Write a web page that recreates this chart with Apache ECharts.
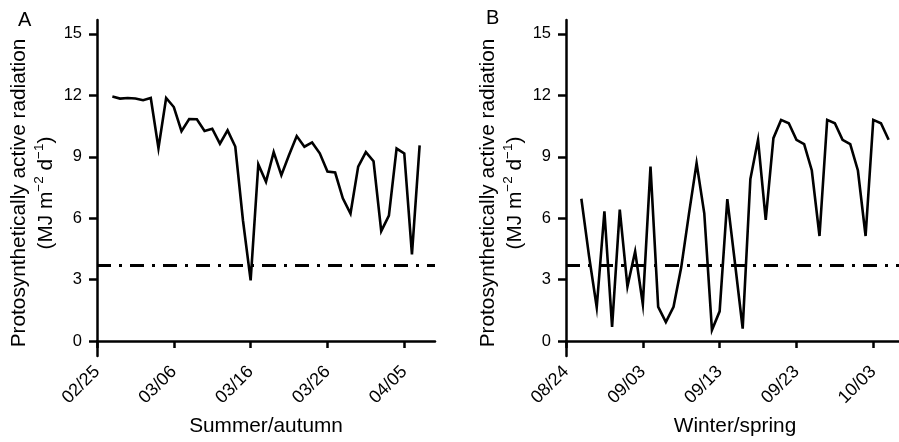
<!DOCTYPE html>
<html><head><meta charset="utf-8">
<script src="https://cdn.jsdelivr.net/npm/echarts@6/dist/echarts.min.js"></script>
<style>html,body{margin:0;padding:0;background:#fff}#c{width:899px;height:442px}</style>
</head><body><div id="c"></div>
<script>
// ---- data ----
const startA = [2020, 1, 25];   // 02/25
const startB = [2020, 7, 24];   // 08/24
const nDays = 45;               // days shown on each axis
const firstDay = 2;             // index of first measured day
const tickLabelsA = ['02/25', '03/06', '03/16', '03/26', '04/05'];
const tickLabelsB = ['08/24', '09/03', '09/13', '09/23', '10/03'];
const yTicks = [0, 3, 6, 9, 12, 15];
const threshold = 3.7;
const valuesA = [11.94, 11.84, 11.87, 11.85, 11.76, 11.87, 9.42, 11.87, 11.43, 10.25, 10.84, 10.83, 10.26, 10.37,
  9.64, 10.29, 9.5, 5.9, 2.96, 8.63, 7.78, 9.23, 8.1, 9.09, 10.01, 9.49, 9.7, 9.17, 8.28, 8.23, 6.97, 6.23,
  8.52, 9.23, 8.78, 5.37, 6.13, 9.4, 9.16, 4.23, 9.56];
const valuesB = [6.95, 4.15, 1.65, 6.34, 0.69, 6.42, 2.66, 4.37, 1.8, 8.52, 1.67, 0.93, 1.67, 3.6, 6.2, 8.69,
  6.24, 0.54, 1.45, 6.93, 3.8, 0.61, 7.91, 9.83, 5.92, 9.91, 10.8, 10.64, 9.83, 9.62, 8.33, 5.13, 10.8, 10.64,
  9.83, 9.62, 8.33, 5.13, 10.8, 10.64, 9.83];

function makeDays(s) {
  const out = [];
  for (let i = 0; i < nDays; i++) {
    const d = new Date(Date.UTC(s[0], s[1], s[2] + i));
    out.push(String(d.getUTCMonth() + 1).padStart(2, '0') + '/' + String(d.getUTCDate()).padStart(2, '0'));
  }
  return out;
}
const daysA = makeDays(startA);
const daysB = makeDays(startB);

const FONT = '"Liberation Sans", Arial, Helvetica, sans-serif';
const axisLineStyle = { color: '#000', width: 2.5 };

function xAxis(idx, cats, ticks, name) {
  return {
    type: 'category', gridIndex: idx, data: cats, boundaryGap: false,
    name: name, nameLocation: 'middle', nameGap: 60,
    nameTextStyle: { fontFamily: FONT, fontSize: 20.8, color: '#000' },
    axisLine: { lineStyle: axisLineStyle },
    axisTick: { interval: 9, length: 7, lineStyle: axisLineStyle },
    axisLabel: {
      interval: 9, rotate: 45, margin: 13, fontFamily: FONT, fontSize: 18, color: '#000',
      formatter: v => (ticks.indexOf(v) >= 0 ? v : '')
    },
    splitLine: { show: false }
  };
}
function yAxis(idx) {
  return {
    type: 'value', gridIndex: idx, min: -0.73, max: 15.68,
    name: '{a|Protosynthetically active radiation}\n{a|(MJ m}{s|−2}{a| d}{s|−1}{a|)}',
    nameLocation: 'middle', nameRotate: 90, nameGap: 35,
    nameTextStyle: {
      fontFamily: FONT, color: '#000', fontSize: 20.8, lineHeight: 27, padding: [0, 10, 0, 0],
      rich: {
        a: { fontFamily: FONT, fontSize: 20.8, lineHeight: 27, color: '#000' },
        s: { fontFamily: FONT, fontSize: 13.5, lineHeight: 27, color: '#000', verticalAlign: 'top' }
      }
    },
    axisLine: { show: true, lineStyle: axisLineStyle },
    axisTick: { show: true, length: 8, lineStyle: axisLineStyle, customValues: yTicks },
    axisLabel: { margin: 15, fontFamily: FONT, fontSize: 16.5, color: '#000', customValues: yTicks },
    splitLine: { show: false }
  };
}
function lineSeries(idx, vals) {
  return {
    type: 'line', xAxisIndex: idx, yAxisIndex: idx,
    data: vals.map((v, i) => [i + firstDay, v]),
    symbol: 'none', smooth: false,
    lineStyle: { color: '#000', width: 2.6, join: 'miter' },
    markLine: {
      silent: true, symbol: ['none', 'none'], label: { show: false },
      lineStyle: { color: '#000', width: 3, type: [14, 8, 3, 8] },
      data: [{ yAxis: threshold }]
    },
    z: 3
  };
}

const chart = echarts.init(document.getElementById('c'));
chart.setOption({
  animation: false,
  backgroundColor: '#fff',
  title: [
    { text: 'A', left: 13, top: 5, textStyle: { fontFamily: FONT, fontSize: 20, fontWeight: 'normal', color: '#000' } },
    { text: 'B', left: 481, top: 3, textStyle: { fontFamily: FONT, fontSize: 20, fontWeight: 'normal', color: '#000' } }
  ],
  grid: [
    { left: 97, right: 464, top: 20, bottom: 86, containLabel: false, outerBoundsMode: 'none' },
    { left: 566, right: -5, top: 20, bottom: 86, containLabel: false, outerBoundsMode: 'none' }
  ],
  xAxis: [xAxis(0, daysA, tickLabelsA, 'Summer/autumn'), xAxis(1, daysB, tickLabelsB, 'Winter/spring')],
  yAxis: [yAxis(0), yAxis(1)],
  series: [lineSeries(0, valuesA), lineSeries(1, valuesB)]
});
</script></body></html>
